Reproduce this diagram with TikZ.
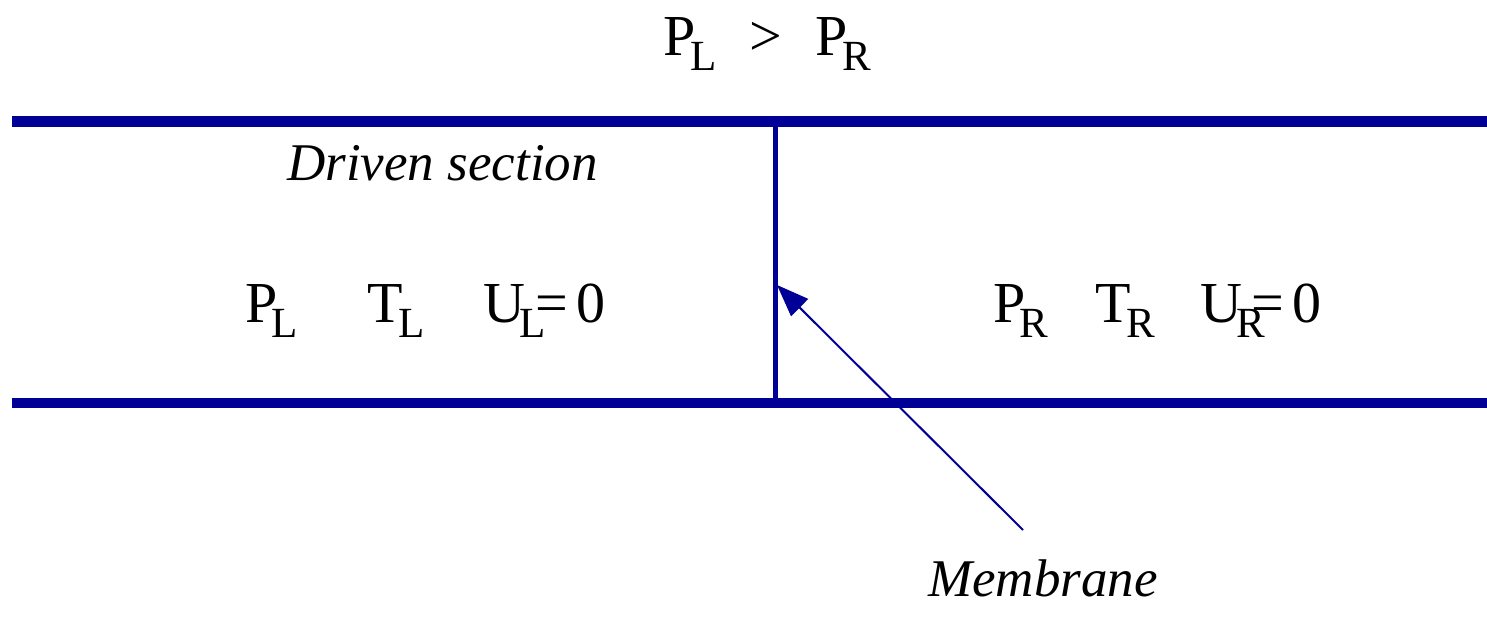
\documentclass[tikz,border=0pt]{standalone}
\usepackage{fontspec}
\setmainfont{Liberation Serif}
\usetikzlibrary{arrows.meta}
\definecolor{tube}{RGB}{0,0,150}
\newcommand{\mysub}[1]{\raisebox{-15pt}{\fontsize{43}{43}\selectfont #1}}
\tikzset{
  wall/.style={draw=tube, line width=11pt},
  membranewall/.style={draw=tube, line width=5pt},
  lbl/.style={anchor=base west, inner sep=0pt, font=\fontsize{58}{58}\selectfont},
  itl/.style={anchor=base west, inner sep=0pt, font=\fontsize{53}{53}\selectfont\itshape},
  pointer/.style={draw=tube, line width=2pt, -{Triangle[length=32pt,width=24pt]}}
}
\begin{document}
\begin{tikzpicture}[x=1pt,y=-1pt]
\useasboundingbox (0,0) rectangle (1487,616);
% walls
\coordinate (tl) at (12,121);
\coordinate (tr) at (1487,121);
\coordinate (bl) at (12,403);
\coordinate (br) at (1487,403);
\coordinate (mt) at (775,116);
\coordinate (mb) at (775,403);
\draw[wall] (tl) -- (tr);
\draw[wall,line width=10pt] (bl) -- (br);
\draw[membranewall] (mt) -- (mb);
% top label
\node[lbl] (ptop) at (663,55) {P\kern-5pt\mysub{L}\hspace{33pt}>\hspace{33pt}P\kern-5pt\mysub{R}};
% driven section
\node[itl] (driven) at (287,180) {Driven section};
% left state
\node[lbl] (pl) at (245,322) {P\kern-6pt\mysub{L}};
\node[lbl] (tlab) at (367,322) {T\kern-4pt\mysub{L}};
\node[lbl] (ul) at (483,322) {U\kern-6pt\mysub{L}\kern-10pt=\hspace{8pt}0};
% right state
\node[lbl] (pr) at (993,322) {P\kern-6pt\mysub{R}};
\node[lbl] (trlab) at (1095,322) {T\kern-4pt\mysub{R}};
\node[lbl] (ur) at (1200,322) {U\kern-6pt\mysub{R}\kern-13pt=\hspace{8pt}0};
% membrane label and pointer
\node[itl] (memb) at (928,596) {Membrane};
\coordinate (pstart) at (1023,530);
\coordinate (ptip) at (777,285);
\draw[pointer] (pstart) -- (ptip);
\end{tikzpicture}
\end{document}
